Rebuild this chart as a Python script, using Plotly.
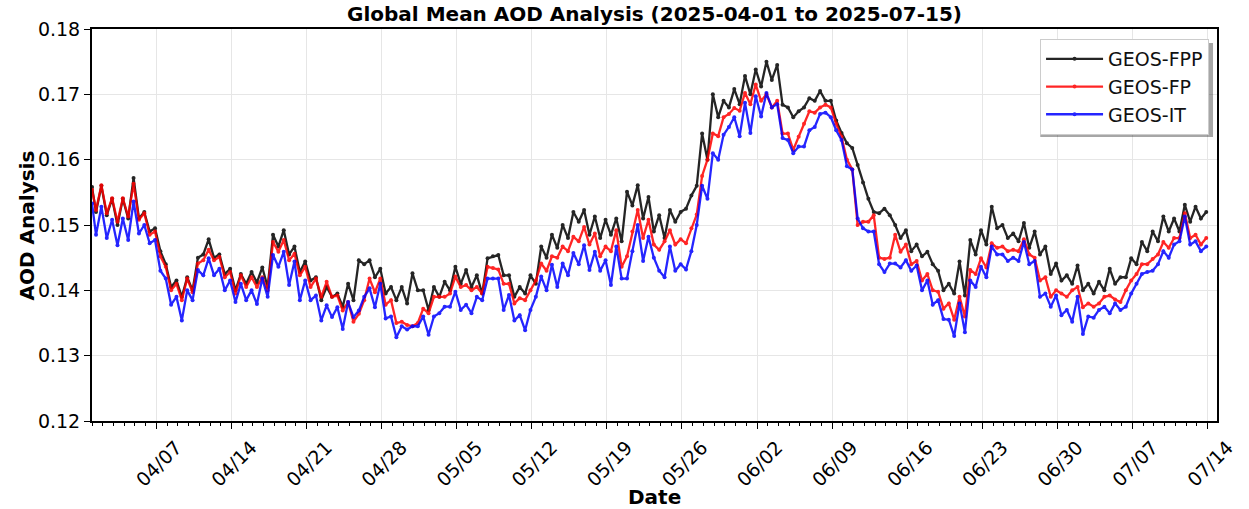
import pandas as pd
import plotly.graph_objects as go

# Global mean AOD analysis, 2025-04-01 .. 2025-07-14.
# Each day holds a morning minimum (09 UTC) and an evening maximum (21 UTC).
series_names = ["GEOS-FPP", "GEOS-FP", "GEOS-IT"]
series_colors = ["#000000", "#ff0000", "#0000ff"]

fpp_start = 0.1558
fpp_low = [
    0.1520, 0.1515, 0.1500, 0.1510, 0.1510, 0.1490, 0.1460,
    0.1405, 0.1390, 0.1400, 0.1455, 0.1450, 0.1425, 0.1400,
    0.1410, 0.1412, 0.1405, 0.1467, 0.1455, 0.1428, 0.1415,
    0.1385, 0.1390, 0.1375, 0.1385, 0.1440, 0.1420, 0.1395,
    0.1385, 0.1380, 0.1400, 0.1370, 0.1390, 0.1400, 0.1410,
    0.1405, 0.1395, 0.1452, 0.1423, 0.1390, 0.1395, 0.1410,
    0.1450, 0.1465, 0.1480, 0.1505, 0.1485, 0.1480, 0.1485,
    0.1475, 0.1530, 0.1510, 0.1490, 0.1480, 0.1505, 0.1525,
    0.1560, 0.1600, 0.1665, 0.1680, 0.1685, 0.1700, 0.1712,
    0.1722, 0.1684, 0.1665, 0.1680, 0.1690, 0.1690, 0.1660,
    0.1625, 0.1592, 0.1540, 0.1518, 0.1515, 0.1480, 0.1460,
    0.1452, 0.1440, 0.1400, 0.1395, 0.1392, 0.1455, 0.1470,
    0.1495, 0.1480, 0.1475, 0.1465, 0.1455, 0.1425, 0.1415,
    0.1410, 0.1400, 0.1395, 0.1400, 0.1410, 0.1420, 0.1440,
    0.1460, 0.1475, 0.1490, 0.1490, 0.1505, 0.1510,
]
fpp_high = [
    0.1560, 0.1540, 0.1540, 0.1572, 0.1520, 0.1495, 0.1440,
    0.1415, 0.1420, 0.1450, 0.1478, 0.1455, 0.1433, 0.1425,
    0.1428, 0.1435, 0.1485, 0.1492, 0.1467, 0.1444, 0.1420,
    0.1405, 0.1395, 0.1410, 0.1446, 0.1446, 0.1433, 0.1405,
    0.1405, 0.1426, 0.1400, 0.1405, 0.1413, 0.1436, 0.1431,
    0.1423, 0.1449, 0.1454, 0.1423, 0.1405, 0.1423, 0.1467,
    0.1485, 0.1500, 0.1520, 0.1523, 0.1513, 0.1508, 0.1510,
    0.1551, 0.1561, 0.1543, 0.1515, 0.1523, 0.1520, 0.1545,
    0.1640, 0.1700, 0.1690, 0.1708, 0.1728, 0.1738, 0.1750,
    0.1745, 0.1680, 0.1674, 0.1694, 0.1705, 0.1690, 0.1641,
    0.1618, 0.1565, 0.1520, 0.1525, 0.1500, 0.1492, 0.1470,
    0.1459, 0.1430, 0.1410, 0.1444, 0.1477, 0.1492, 0.1528,
    0.1500, 0.1487, 0.1503, 0.1490, 0.1467, 0.1441, 0.1423,
    0.1438, 0.1410, 0.1413, 0.1433, 0.1420, 0.1449, 0.1474,
    0.1490, 0.1513, 0.1510, 0.1531, 0.1528, 0.1520,
]

fp_start = 0.1554
fp_low = [
    0.1523, 0.1518, 0.1505, 0.1513, 0.1508, 0.1485, 0.1452,
    0.1400, 0.1385, 0.1397, 0.1446, 0.1446, 0.1420, 0.1395,
    0.1405, 0.1405, 0.1400, 0.1459, 0.1446, 0.1423, 0.1405,
    0.1390, 0.1390, 0.1369, 0.1352, 0.1385, 0.1397, 0.1378,
    0.1350, 0.1347, 0.1350, 0.1365, 0.1390, 0.1395, 0.1405,
    0.1400, 0.1395, 0.1434, 0.1410, 0.1380, 0.1385, 0.1415,
    0.1430, 0.1450, 0.1460, 0.1475, 0.1470, 0.1452, 0.1460,
    0.1436, 0.1490, 0.1480, 0.1470, 0.1475, 0.1470, 0.1472,
    0.1516, 0.1600, 0.1636, 0.1670, 0.1675, 0.1685, 0.1690,
    0.1680, 0.1640, 0.1615, 0.1655, 0.1672, 0.1684, 0.1655,
    0.1600, 0.1500, 0.1505, 0.1450, 0.1450, 0.1459, 0.1440,
    0.1415, 0.1400, 0.1372, 0.1355, 0.1360, 0.1425, 0.1435,
    0.1465, 0.1460, 0.1460, 0.1455, 0.1415, 0.1390, 0.1395,
    0.1400, 0.1374, 0.1375, 0.1390, 0.1386, 0.1400, 0.1425,
    0.1440, 0.1455, 0.1465, 0.1480, 0.1480, 0.1470,
]
fp_high = [
    0.1561, 0.1541, 0.1541, 0.1563, 0.1518, 0.1490, 0.1436,
    0.1410, 0.1418, 0.1441, 0.1462, 0.1451, 0.1428, 0.1423,
    0.1420, 0.1420, 0.1474, 0.1477, 0.1456, 0.1436, 0.1418,
    0.1413, 0.1392, 0.1382, 0.1364, 0.1418, 0.1418, 0.1385,
    0.1352, 0.1345, 0.1372, 0.1390, 0.1390, 0.1421, 0.1408,
    0.1405, 0.1436, 0.1432, 0.1410, 0.1388, 0.1400, 0.1441,
    0.1452, 0.1467, 0.1482, 0.1497, 0.1487, 0.1467, 0.1492,
    0.1452, 0.1523, 0.1508, 0.1462, 0.1492, 0.1478, 0.1495,
    0.1575, 0.1640, 0.1665, 0.1679, 0.1702, 0.1715, 0.1700,
    0.1690, 0.1640, 0.1635, 0.1674, 0.1680, 0.1680, 0.1635,
    0.1585, 0.1505, 0.1515, 0.1448, 0.1485, 0.1470, 0.1445,
    0.1425, 0.1398, 0.1380, 0.1390, 0.1431, 0.1449, 0.1472,
    0.1467, 0.1462, 0.1478, 0.1450, 0.1420, 0.1400, 0.1390,
    0.1405, 0.1380, 0.1380, 0.1392, 0.1382, 0.1415, 0.1440,
    0.1448, 0.1474, 0.1480, 0.1518, 0.1485, 0.1480,
]

it_start = 0.1533
it_low = [
    0.1485, 0.1480, 0.1469, 0.1477, 0.1487, 0.1472, 0.1430,
    0.1378, 0.1354, 0.1385, 0.1423, 0.1423, 0.1400, 0.1382,
    0.1385, 0.1379, 0.1390, 0.1436, 0.1408, 0.1385, 0.1385,
    0.1354, 0.1359, 0.1341, 0.1359, 0.1390, 0.1374, 0.1357,
    0.1328, 0.1340, 0.1345, 0.1332, 0.1365, 0.1375, 0.1370,
    0.1365, 0.1385, 0.1418, 0.1370, 0.1354, 0.1339, 0.1390,
    0.1400, 0.1405, 0.1423, 0.1440, 0.1431, 0.1430, 0.1408,
    0.1418, 0.1460, 0.1445, 0.1450, 0.1420, 0.1430, 0.1432,
    0.1500, 0.1540, 0.1600, 0.1650, 0.1636, 0.1641, 0.1666,
    0.1680, 0.1633, 0.1610, 0.1620, 0.1650, 0.1672, 0.1645,
    0.1590, 0.1510, 0.1490, 0.1440, 0.1441, 0.1435, 0.1430,
    0.1400, 0.1378, 0.1356, 0.1330, 0.1336, 0.1405, 0.1420,
    0.1455, 0.1445, 0.1445, 0.1440, 0.1390, 0.1375, 0.1362,
    0.1352, 0.1333, 0.1358, 0.1375, 0.1380, 0.1375, 0.1410,
    0.1428, 0.1440, 0.1450, 0.1475, 0.1470, 0.1460,
]
it_high = [
    0.1528, 0.1508, 0.1510, 0.1536, 0.1500, 0.1477, 0.1418,
    0.1390, 0.1400, 0.1431, 0.1449, 0.1433, 0.1415, 0.1410,
    0.1400, 0.1418, 0.1454, 0.1459, 0.1444, 0.1415, 0.1392,
    0.1377, 0.1374, 0.1382, 0.1369, 0.1403, 0.1410, 0.1360,
    0.1345, 0.1345, 0.1360, 0.1360, 0.1375, 0.1398, 0.1378,
    0.1390, 0.1418, 0.1418, 0.1393, 0.1362, 0.1370, 0.1421,
    0.1439, 0.1441, 0.1457, 0.1469, 0.1459, 0.1446, 0.1467,
    0.1418, 0.1500, 0.1482, 0.1430, 0.1467, 0.1440, 0.1460,
    0.1560, 0.1610, 0.1638, 0.1665, 0.1687, 0.1697, 0.1702,
    0.1685, 0.1630, 0.1620, 0.1645, 0.1670, 0.1665, 0.1630,
    0.1585, 0.1495, 0.1490, 0.1428, 0.1441, 0.1446, 0.1438,
    0.1415, 0.1385, 0.1355, 0.1380, 0.1415, 0.1436, 0.1467,
    0.1455, 0.1450, 0.1474, 0.1445, 0.1395, 0.1392, 0.1370,
    0.1390, 0.1360, 0.1370, 0.1365, 0.1370, 0.1395, 0.1425,
    0.1430, 0.1460, 0.1470, 0.1513, 0.1475, 0.1467,
]

start_date = pd.Timestamp("2025-04-01 00:00")
end_date = pd.Timestamp("2025-07-14 21:00")


def build_series(first, lows, highs):
    times = [start_date]
    values = [first]
    for day, (lo, hi) in enumerate(zip(lows, highs)):
        base = start_date + pd.Timedelta(days=day)
        times += [base + pd.Timedelta(hours=9), base + pd.Timedelta(hours=21)]
        values += [lo, hi]
    return times, values


series_data = [
    build_series(fpp_start, fpp_low, fpp_high),
    build_series(fp_start, fp_low, fp_high),
    build_series(it_start, it_low, it_high),
]

FONT = "DejaVu Sans, Liberation Sans, Arial, sans-serif"

fig = go.Figure()
for name, color, (t, v) in zip(series_names, series_colors, series_data):
    fig.add_trace(go.Scatter(
        x=t, y=v, name=name, mode="lines+markers",
        line=dict(color=color, width=2.3),
        marker=dict(color=color, size=4),
        opacity=0.85,
    ))

L, R, T, B = 92, 24, 29, 88
W, H = 1249, 509
pw, ph = W - L - R, H - T - B

fig.update_layout(
    width=W, height=H,
    margin=dict(l=L, r=R, t=T, b=B),
    paper_bgcolor="white", plot_bgcolor="white",
    font=dict(family=FONT, size=19, color="black"),
    title=dict(
        text="<b>Global Mean AOD Analysis (2025-04-01 to 2025-07-15)</b>",
        x=0.5, xref="paper", xanchor="center",
        y=1 - 14 / H, yref="container", yanchor="middle",
        font=dict(family=FONT, size=20, color="black"),
    ),
    showlegend=True,
    legend=dict(
        x=(1217 - L) / pw, xanchor="right",
        y=(H - B - 39) / ph, yanchor="top",
        bgcolor="white", bordercolor="#cccccc", borderwidth=1,
        font=dict(family=FONT, size=19, color="#111111"),
        itemwidth=57,
    ),
)

fig.update_xaxes(
    range=[start_date, end_date],
    tick0="2025-04-07", dtick=7 * 86400000, tickformat="%m/%d",
    tickangle=-45, ticklabelshift=20,
    ticks="outside", ticklen=6, tickwidth=1.2, tickcolor="black",
    showline=True, linecolor="black", linewidth=2, mirror=True,
    showgrid=True, gridcolor="#e6e6e6", gridwidth=1,
    zeroline=False,
    tickfont=dict(family=FONT, size=19, color="black"),
    minor=dict(dtick=86400000, tick0="2025-04-01", ticks="outside",
               ticklen=3, tickcolor="black", showgrid=False),
)
fig.update_yaxes(
    range=[0.12, 0.18], dtick=0.01, tickformat=".2f",
    ticks="outside", ticklen=6, tickwidth=1.2, tickcolor="black",
    showline=True, linecolor="black", linewidth=2, mirror=True,
    showgrid=True, gridcolor="#e6e6e6", gridwidth=1,
    zeroline=False,
    tickfont=dict(family=FONT, size=19, color="black"),
)

# axis titles
fig.add_annotation(
    text="<b>Date</b>", xref="paper", yref="paper",
    x=0.5, y=-(497 - (H - B)) / ph, xanchor="center", yanchor="middle",
    showarrow=False, font=dict(family=FONT, size=20, color="black"),
)
fig.add_annotation(
    text="<b>AOD Analysis</b>", xref="paper", yref="paper",
    x=-(L - 27) / pw, y=0.5, xanchor="center", yanchor="middle",
    textangle=-90, showarrow=False,
    font=dict(family=FONT, size=20, color="black"),
)

# drop shadow behind the legend box
fig.add_shape(
    type="rect", xref="paper", yref="paper", layer="above",
    x0=(1047 - L) / pw, x1=(1221 - L) / pw,
    y0=(H - B - 137) / ph, y1=(H - B - 43) / ph,
    fillcolor="rgba(0,0,0,0.35)", line=dict(width=0),
)

fig.write_html("out.html")
